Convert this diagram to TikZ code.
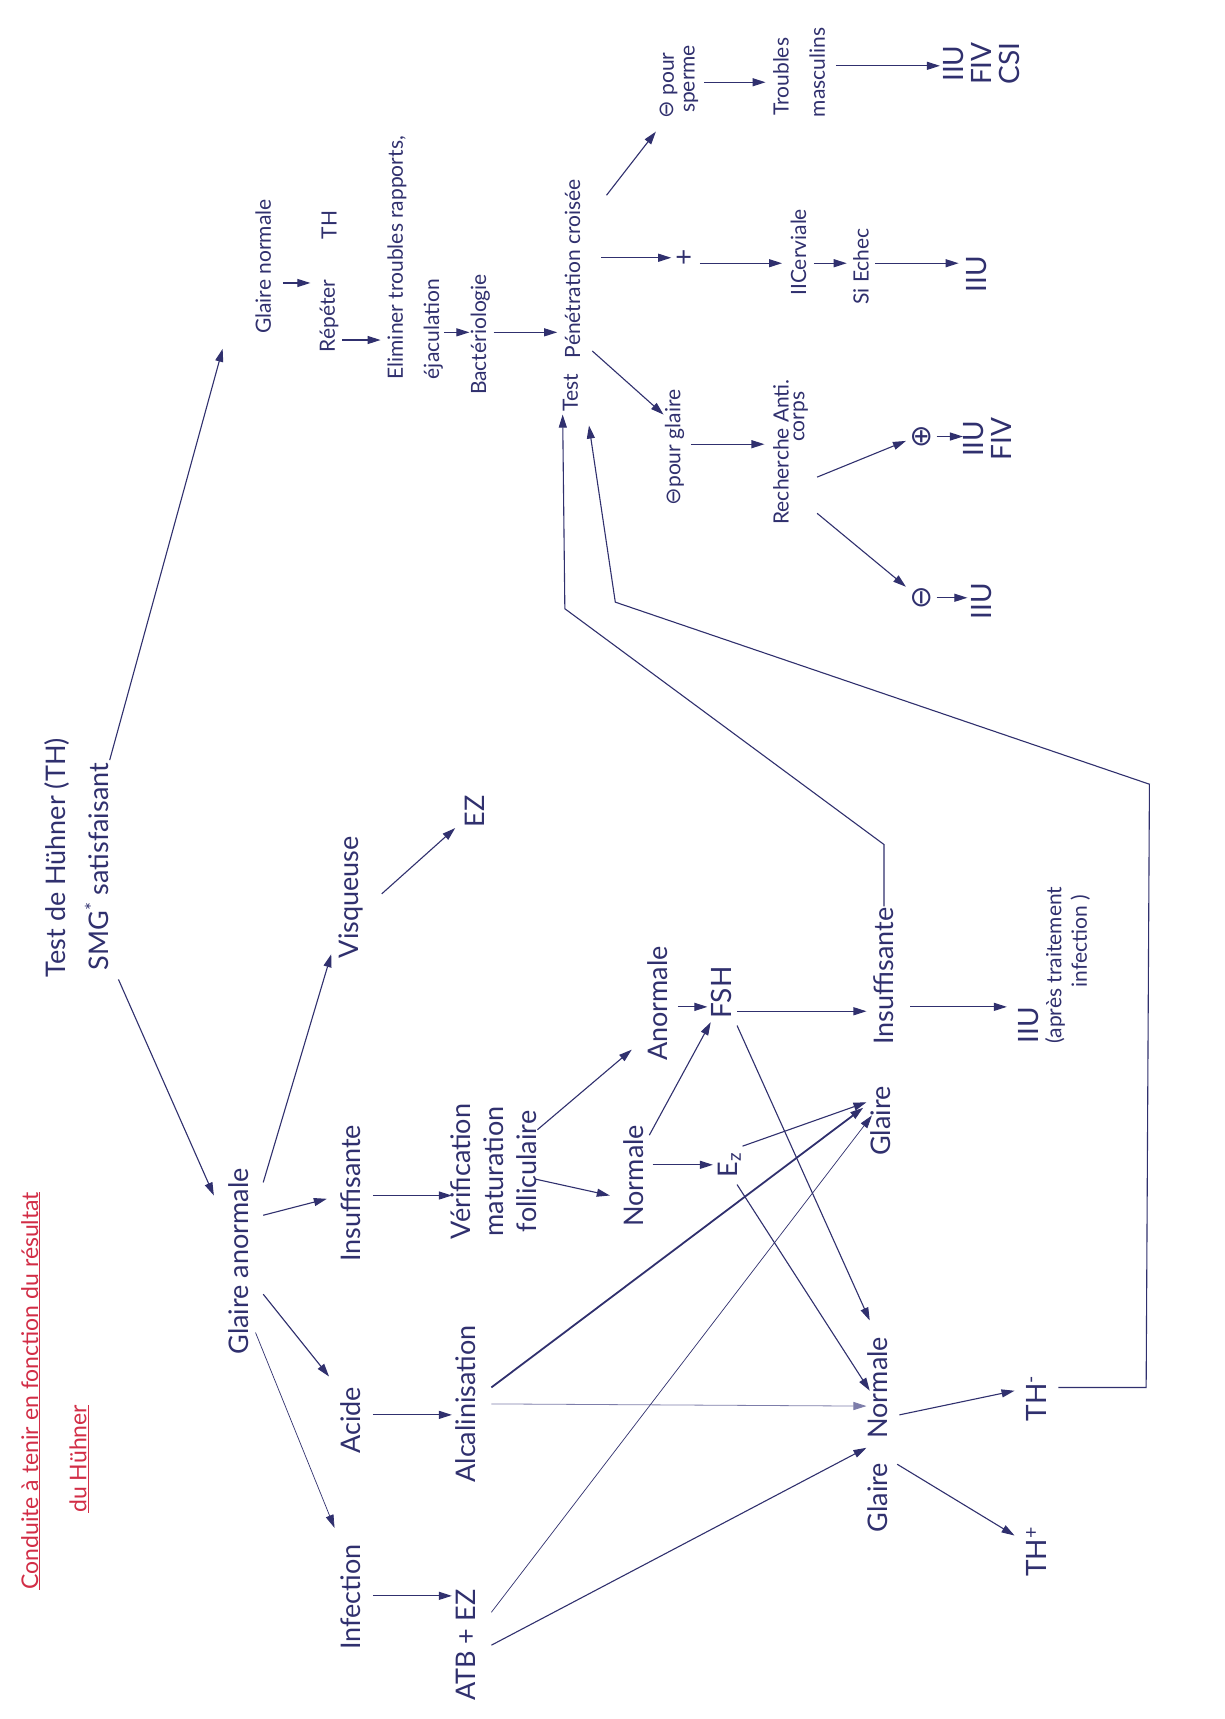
\documentclass[tikz,border=0pt]{standalone}
\usepackage{fontspec}
\setmainfont{Lato}
\newfontfamily\symf{DejaVu Sans}
\usetikzlibrary{arrows.meta,calc}
\definecolor{ink}{RGB}{48,48,110}
\definecolor{redink}{RGB}{210,45,70}
\definecolor{lightink}{RGB}{125,125,170}
\begin{document}
\begin{tikzpicture}[x=1.0968pt,y=-1.0968pt,
  lab/.style={rotate=90,inner sep=1pt,text=ink,font=\fontsize{27}{33}\selectfont},
  midl/.style={lab,font=\fontsize{21}{26}\selectfont},
  bigl/.style={lab,font=\fontsize{28}{28}\selectfont},
  ttl/.style={rotate=90,inner sep=1pt,text=redink,font=\fontsize{23}{26}\selectfont},
  arr/.style={draw=ink,line width=1.1pt,-{Triangle[length=13pt,width=8pt]}},
  thinarr/.style={arr,line width=0.7pt},
  lightarr/.style={arr,draw=lightink,line width=0.8pt},
  thickarr/.style={arr,line width=1.8pt}]
\fill[white] (0,0) rectangle (1116,1567.3);
\useasboundingbox (0,0) rectangle (1116,1567.3);

% title
\node[ttl] (t1) at (28,1268) {\underline{Conduite à tenir en fonction du résultat}};
\node[ttl] (t2) at (72,1330) {\underline{du Hühner}};

% start
\node[lab] (th) at (52,782) {Test de Hühner (TH)};
\node[lab] (smg) at (88,790) {SMG\textsuperscript{*} satisfaisant};

% upper branch
\node[midl] (gn) at (240,243) {Glaire normale};
\node[midl] (rep) at (300,288) {Répéter};
\node[midl] (repth) at (300,205) {TH};
\node[midl] (elim1) at (362,235) {Eliminer troubles rapports,};
\node[midl] (elim2) at (395,300) {éjaculation};
\node[midl] (bact) at (438,305) {Bactériologie};
\node[midl] (test) at (520,358) {Test};
\node[midl] (pen) at (522,245) {Pénétration croisée};
\node[bigl] (plus) at (625,235) {+};
\node[midl] (iic) at (728,230) {IICerviale};
\node[midl] (sie) at (785,243) {Si Echec};
\node[bigl] (iiu4) at (890,250) {IIU};
\node[midl] (msp1) at (610,78) {{\symf ⊖} pour};
\node[midl] (msp2) at (630,72) {sperme};
\node[midl] (trm1) at (712,70) {Troubles};
\node[midl] (trm2) at (745,66) {masculins};
\node[bigl,align=center] (iiu3) at (895,58) {IIU\\FIV\\CSI};
\node[midl] (mgl) at (615,408) {{\symf ⊖}pour glaire};
\node[midl] (rac1) at (712,412) {Recherche Anti.};
\node[midl] (rac2) at (730,380) {corps};
\node[bigl] (opl) at (840,398) {{\symf ⊕}};
\node[bigl,align=center] (iiu5) at (900,400) {IIU\\FIV};
\node[bigl] (omi) at (840,545) {{\symf ⊖}};
\node[bigl] (iiu6) at (895,548) {IIU};

% lower branch
\node[lab] (ga) at (218,1150) {Glaire anormale};
\node[lab] (vis) at (320,818) {Visqueuse};
\node[lab] (ez1) at (433,740) {EZ};
\node[lab] (ins1) at (320,1088) {Insuffisante};
\node[lab] (aci) at (320,1295) {Acide};
\node[lab] (inf) at (320,1456) {Infection};
\node[lab,align=center] (ver) at (450,1068) {Vérification\\maturation\\folliculaire};
\node[lab] (alc) at (425,1280) {Alcalinisation};
\node[lab] (atb) at (425,1500) {ATB + EZ};
\node[lab] (nor1) at (578,1072) {Normale};
\node[lab] (anor) at (600,915) {Anormale};
\node[bigl] (fsh) at (658,905) {FSH};
\node[lab] (ez2) at (665,1062) {E\textsubscript{z}};
\node[lab] (gl2) at (803,1022) {Glaire};
\node[lab] (ins2) at (806,890) {Insuffisante};
\node[bigl] (iiu1) at (938,935) {IIU};
\node[midl] (note1) at (962,880) {(après traitement};
\node[midl] (note2) at (985,858) {infection )};
\node[lab] (gln) at (800,1308) {Glaire\hspace{0.9em}Normale};
\node[bigl] (thm) at (945,1275) {TH\textsuperscript{-}};
\node[bigl] (thp) at (945,1415) {TH\textsuperscript{+}};

% corner points of the long return lines
\coordinate (q1) at (806,770);
\coordinate (q2) at (515,555);
\coordinate (r1) at (1045,1265);
\coordinate (r2) at (1048,715);
\coordinate (r3) at (561,549);

% connectors
\draw[arr] ($(smg)+(12,-97)$) -- ($(gn)+(-37,75)$);
\draw[arr] ($(smg)+(20,103)$) -- ($(ga)+(-23,-60)$);
\draw[arr] ($(gn)+(18,15)$) -- ($(rep)+(-17,-30)$);
\draw[arr] ($(rep)+(12,22)$) -- ($(elim1)+(-15,75)$);
\draw[arr] ($(elim2)+(10,3)$) -- ($(bact)+(-10,-2)$);
\draw[arr] ($(bact)+(12,-2)$) -- ($(test)+(-12,-55)$);
\draw[arr] ($(pen)+(26,-10)$) -- ($(plus)+(-13,0)$);
\draw[arr] ($(plus)+(13,5)$) -- ($(iic)+(-15,10)$);
\draw[arr] ($(pen)+(31,-67)$) -- ($(msp1)+(-12,42)$);
\draw[arr] ($(msp2)+(12,3)$) -- ($(trm1)+(-14,5)$);
\draw[arr] ($(trm2)+(17,-6)$) -- ($(iiu3)+(-38,2)$);
\draw[arr] ($(iic)+(14,10)$) -- ($(sie)+(-13,-3)$);
\draw[arr] ($(sie)+(13,-3)$) -- ($(iiu4)+(-16,-10)$);
\draw[arr] ($(test)+(20,-38)$) -- ($(mgl)+(-10,-30)$);
\draw[arr] ($(mgl)+(15,-3)$) -- ($(rac1)+(-15,-7)$);
\draw[arr] ($(rac1)+(33,23)$) -- ($(opl)+(-14,4)$);
\draw[arr] ($(rac1)+(33,56)$) -- ($(omi)+(-14,-10)$);
\draw[arr] ($(opl)+(14,0)$) -- ($(iiu5)+(-22,-2)$);
\draw[arr] ($(omi)+(14,0)$) -- ($(iiu6)+(-13,-3)$);

\draw[arr] ($(ga)+(22,-72)$) -- ($(vis)+(-18,52)$);
\draw[arr] ($(vis)+(28,-3)$) -- ($(ez1)+(-18,15)$);
\draw[arr] ($(ga)+(22,-42)$) -- ($(ins1)+(-22,5)$);
\draw[arr] ($(ga)+(22,30)$) -- ($(aci)+(-20,-40)$);
\draw[thinarr] ($(ga)+(15,65)$) -- ($(inf)+(-15,-63)$);
\draw[arr] ($(ins1)+(20,2)$) -- ($(ver)+(-38,22)$);
\draw[arr] ($(aci)+(20,-5)$) -- ($(alc)+(-13,10)$);
\draw[arr] ($(inf)+(20,-1)$) -- ($(atb)+(-13,-45)$);
\draw[arr] ($(ver)+(40,-38)$) -- ($(anor)+(-24,42)$);
\draw[arr] ($(ver)+(38,7)$) -- ($(nor1)+(-22,18)$);
\draw[arr] ($(anor)+(18,3)$) -- ($(fsh)+(-13,13)$);
\draw[arr] ($(nor1)+(14,-37)$) -- ($(fsh)+(-10,27)$);
\draw[arr] ($(nor1)+(17,-10)$) -- ($(ez2)+(-15,0)$);
\draw[arr] ($(fsh)+(14,17)$) -- ($(ins2)+(-16,32)$);
\draw[arr] ($(fsh)+(14,30)$) -- ($(gln)+(-7,-104)$);
\draw[arr] ($(ez2)+(12,-17)$) -- ($(gl2)+(-13,-17)$);
\draw[arr] ($(ez2)+(7,18)$) -- ($(gln)+(-7,-40)$);
\draw[thickarr] ($(alc)+(23,-15)$) -- ($(gl2)+(-16,-12)$);
\draw[lightarr] ($(alc)+(23,0)$) -- ($(gln)+(-10,-26)$);
\draw[thinarr] ($(atb)+(23,-30)$) -- ($(gl2)+(-8,-5)$);
\draw[arr] ($(atb)+(23,0)$) -- ($(gln)+(-10,12)$);
\draw[arr] ($(gln)+(20,-18)$) -- ($(thm)+(-20,-7)$);
\draw[arr] ($(gln)+(18,27)$) -- ($(thp)+(-20,-15)$);
\draw[arr] ($(ins2)+(24,28)$) -- ($(iiu1)+(-20,-17)$);

% return lines to the Test
\draw[arr] (ins2.east) -- (q1) -- (q2) -- ($(test)+(-7,20)$);
\draw[arr] ($(thm)+(20,-10)$) -- (r1) -- (r2) -- (r3) -- ($(test)+(17,30)$);
\end{tikzpicture}
\end{document}
